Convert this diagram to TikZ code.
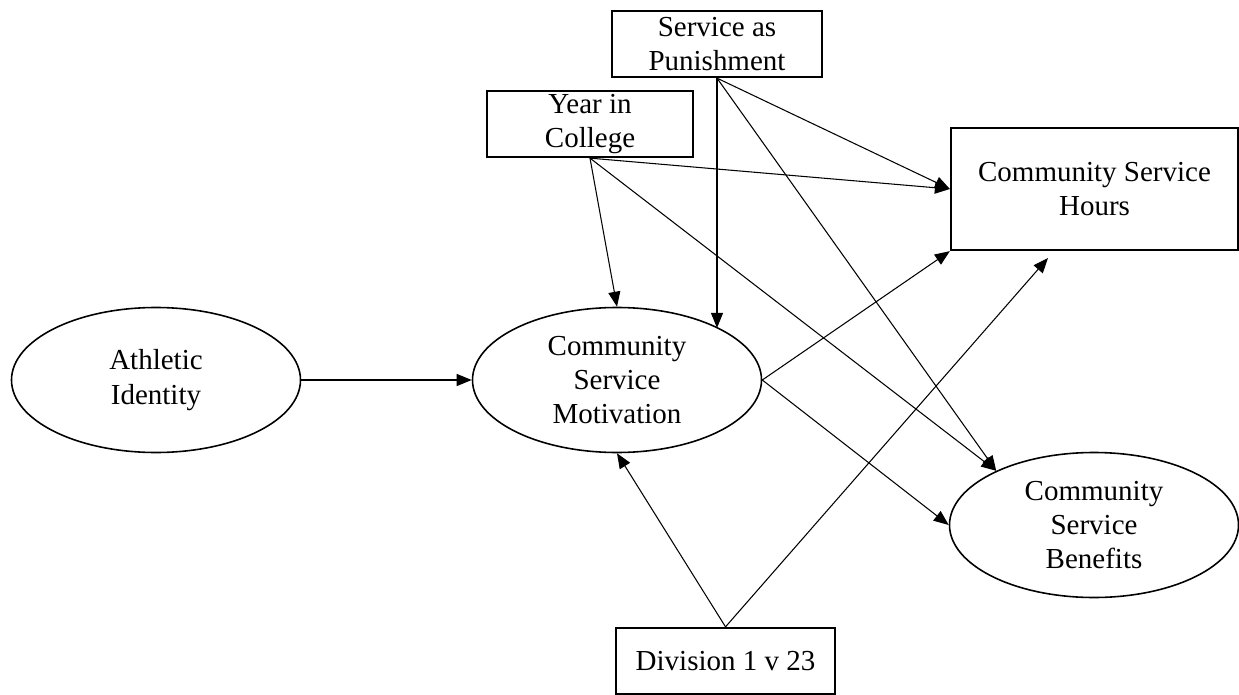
\documentclass[tikz,border=0pt]{standalone}
\usepackage{fontspec}
\setmainfont{Liberation Serif}
\usetikzlibrary{arrows.meta,positioning,shapes.geometric,calc}
\definecolor{ink}{RGB}{0,0,0}
\tikzset{
  >={Triangle[length=3mm,width=2.4mm]},
  var/.style={draw=ink,line width=0.9pt,align=center,inner sep=0pt,
    font=\fontsize{16.5}{19.5}\selectfont},
  latent/.style={var,ellipse,minimum width=#1,minimum height=2.9cm},
  latent/.default=5.78cm,
  obsbox/.style={var,rectangle,line width=1.3pt,minimum height=#1},
  obsbox/.default=1.32cm,
  path/.style={->,draw=ink,line width=0.6pt},
}
\begin{document}
\begin{tikzpicture}
  \useasboundingbox (0,0) rectangle (24.78,13.88);
  % latent variables
  \node[latent] (ath) at (3.12,6.28) {Athletic\\Identity};
  \node[latent] (mot) at (12.34,6.28) {Community\\Service\\Motivation};
  \node[latent] (ben) at (21.88,3.38) {Community\\Service\\Benefits};
  % observed variables
  \node[obsbox=2.44cm,minimum width=5.74cm] (hrs) at (21.89,10.1) {Community Service\\Hours};
  \node[obsbox,minimum width=4.12cm] (yic) at (11.8,11.4) {Year in\\College};
  \node[obsbox,minimum width=4.2cm] (sap) at (14.34,13.0) {Service as\\Punishment};
  \node[obsbox,minimum width=4.38cm] (div) at (14.51,0.66) {Division 1 v 23};
  \coordinate (hrsin) at (20.96,8.72);
  % paths
  \draw[path] (ath) -- (mot);
  \draw[path] (yic.south) -- (mot.north);
  \draw[path] (yic.south) -- (hrs.west);
  \draw[path] (yic.south) -- (ben.151);
  \draw[path] (sap.south) -- (sap.south |- mot.27);
  \draw[path] (sap.south) -- (hrs.west);
  \draw[path] (sap.south) -- (ben.151);
  \draw[path] (mot.east) -- (hrs.south west);
  \draw[path] (mot.east) -- (ben.west);
  \draw[path] (div.north) -- (mot.south);
  \draw[path] (div.north) -- (hrsin);
\end{tikzpicture}
\end{document}
